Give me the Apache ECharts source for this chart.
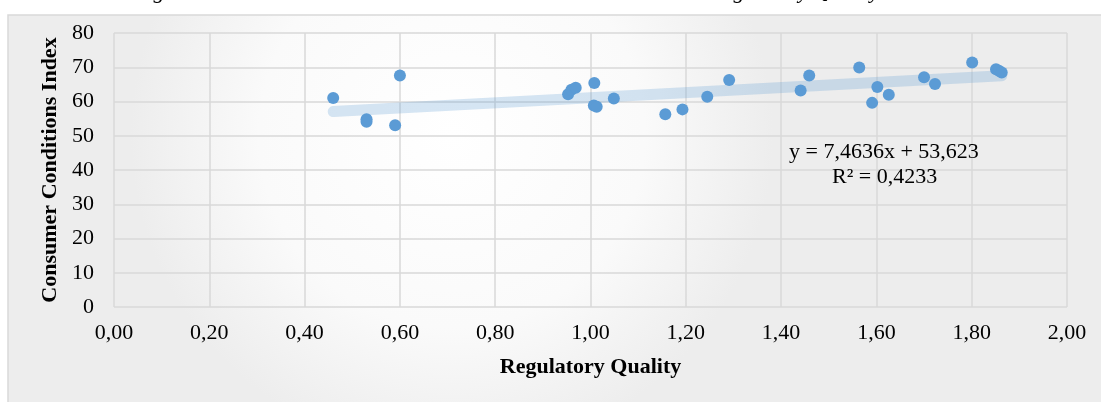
<!DOCTYPE html>
<html>
<head>
<meta charset="utf-8">
<script src="https://cdn.jsdelivr.net/npm/echarts@6/dist/echarts.min.js"></script>
<style>
html, body { margin: 0; padding: 0; background: #fff; }
#chart { width: 1101px; height: 402px; }
</style>
</head>
<body>
<div id="chart"></div>
<script>
let myChart = echarts.init(document.getElementById('chart'));

// Regulatory Quality (x) and Consumer Conditions Index (y)
let regQuality = [0.46, 0.53, 0.53, 0.59, 0.60, 0.953, 0.96, 0.969, 1.008, 1.007, 1.013, 1.049,
	1.157, 1.193, 1.245, 1.291, 1.441, 1.459, 1.564, 1.591, 1.602, 1.626, 1.700, 1.723,
	1.801, 1.851, 1.857, 1.863];
let consumerIdx = [61.0, 54.8, 54.1, 53.1, 67.6, 62.1, 63.4, 64.0, 65.4, 58.8, 58.5, 60.9,
	56.3, 57.7, 61.4, 66.3, 63.2, 67.6, 69.9, 59.6, 64.2, 62.0, 67.1, 65.1,
	71.4, 69.4, 69.0, 68.5];

// trendline ends as drawn
let trendX = [0.46, 1.863];
let trendY = [57.06, 67.53];

let equationText = 'y = 7,4636x + 53,623';
let r2Text = 'R² = 0,4233';
let captionText = 'Figure 10: Correlation between Consumer Conditions Index and Regulatory Quality Indicator';

let points = regQuality.map((x, i) => [x, consumerIdx[i]]);
let trend = trendX.map((x, i) => [x, trendY[i]]);

let serif = '"Liberation Serif", "DejaVu Serif", serif';

option = {
	animation: false,
	backgroundColor: '#ffffff',
	graphic: [
		{
			type: 'rect',
			z: -10,
			shape: { x: 8, y: 15, width: 1110, height: 400 },
			style: {
				fill: new echarts.graphic.RadialGradient(0.4, 0.3, 0.8, [
					{ offset: 0, color: '#ffffff' },
					{ offset: 0.6, color: '#fafafa' },
					{ offset: 1, color: '#ededed' }
				]),
				stroke: '#d9d9d9',
				lineWidth: 1.5
			}
		},
		{
			type: 'text',
			left: 'center',
			top: -19,
			style: {
				text: captionText,
				font: 'italic 22px ' + serif,
				fill: '#000'
			}
		},
		{
			type: 'text',
			x: 789,
			y: 141,
			z: 10,
			style: { text: equationText, font: '22px ' + serif, fill: '#000' }
		},
		{
			type: 'text',
			x: 832,
			y: 166,
			z: 10,
			style: { text: r2Text, font: '22px ' + serif, fill: '#000' }
		}
	],
	grid: {
		left: 114,
		right: 34,
		top: 33,
		bottom: 95
	},
	xAxis: {
		type: 'value',
		min: 0,
		max: 2,
		interval: 0.2,
		name: 'Regulatory Quality',
		nameLocation: 'middle',
		nameGap: 49,
		nameTextStyle: { fontFamily: serif, fontWeight: 'bold', fontSize: 22, color: '#000' },
		axisLine: { show: false },
		axisTick: { show: false },
		axisLabel: {
			margin: 15,
			fontFamily: serif,
			fontSize: 22,
			color: '#000',
			formatter: v => v.toFixed(2).replace('.', ',')
		},
		splitLine: { show: true, lineStyle: { color: '#d9d9d9', width: 1.5 } }
	},
	yAxis: {
		type: 'value',
		min: 0,
		max: 80,
		interval: 10,
		name: 'Consumer Conditions Index',
		nameLocation: 'middle',
		nameGap: 50,
		nameTextStyle: { fontFamily: serif, fontWeight: 'bold', fontSize: 22, color: '#000' },
		axisLine: { show: false },
		axisTick: { show: false },
		axisLabel: { margin: 20, fontFamily: serif, fontSize: 22, color: '#000' },
		splitLine: { show: true, lineStyle: { color: '#d9d9d9', width: 1.5 } }
	},
	series: [
		{
			name: 'trend',
			type: 'line',
			data: trend,
			symbol: 'none',
			z: 1,
			lineStyle: { color: 'rgba(91,155,213,0.25)', width: 11, cap: 'round' }
		},
		{
			name: 'countries',
			type: 'scatter',
			data: points,
			symbolSize: 12,
			z: 3,
			itemStyle: { color: '#5b9bd5', opacity: 1 }
		}
	]
};

myChart.setOption(option);
</script>
</body>
</html>
